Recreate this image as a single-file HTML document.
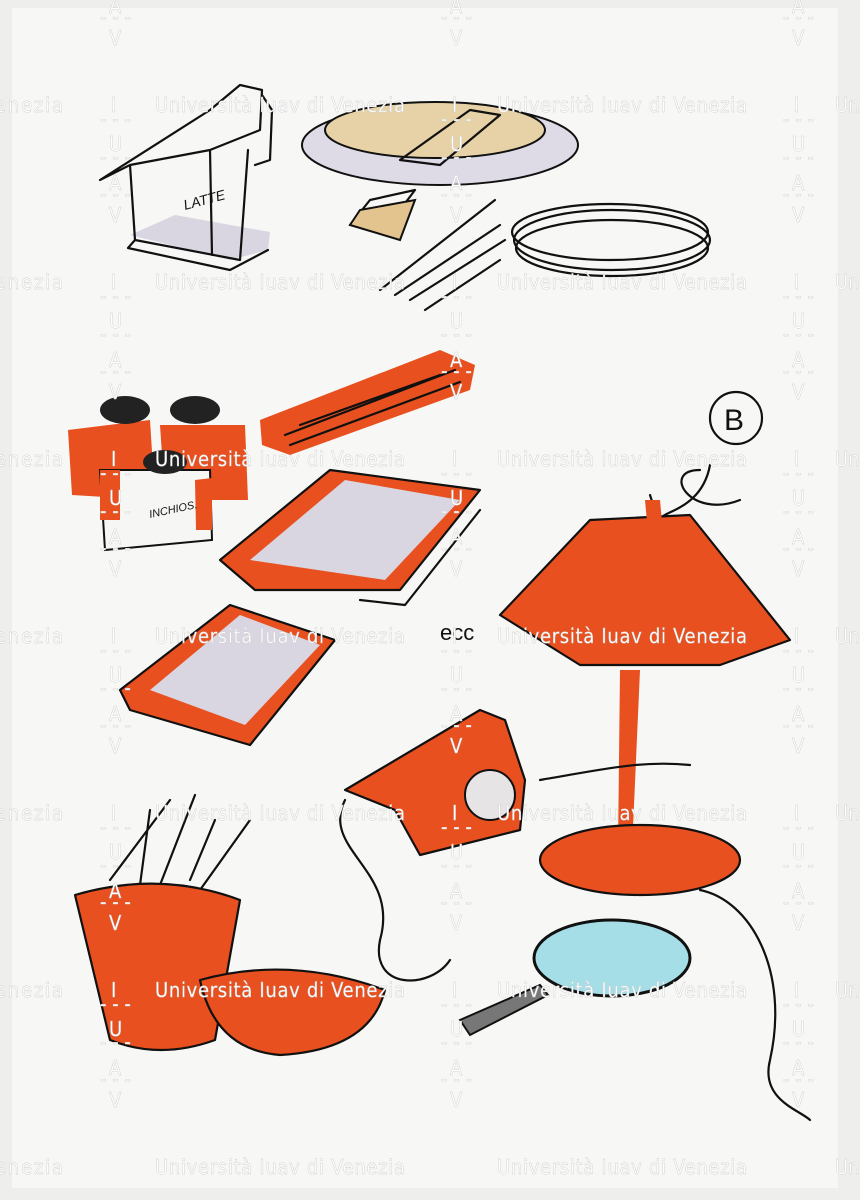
<!DOCTYPE html>
<html><head><meta charset="utf-8"><style>
html,body{margin:0;padding:0;background:#fff;overflow:hidden;width:860px;height:1200px}
svg{display:block}
.wm{font-family:"DejaVu Sans Condensed","Liberation Sans",sans-serif;font-size:20px;fill:#fff;stroke:#ccc;stroke-width:.4}
.k{fill:none;stroke:#111;stroke-width:2.2;stroke-linecap:round;stroke-linejoin:round}
.o{fill:#e8501f}
.g{fill:#d9d6e2}
</style></head><body>
<svg width="860" height="1200" viewBox="0 0 860 1200" xmlns="http://www.w3.org/2000/svg">
<rect width="860" height="1200" fill="#eeeeec"/>
<rect x="12" y="8" width="826" height="1180" fill="#f7f7f5"/>
<!-- milk jug -->
<path class="g" d="M130 235 L230 260 L268 250 L270 232 L175 215 Z"/>
<path class="k" d="M100 180 L210 110 L240 85 L262 90 L260 130 L210 150 L130 165 Z M130 165 L135 240 L240 260 L248 150 M210 150 L212 255 M262 95 L272 110 L270 160 L255 165 M135 240 L128 248 L230 270 L268 250"/>
<text x="185" y="210" font-family="Liberation Sans" font-size="14" font-style="italic" transform="rotate(-15 185 210)" fill="#111">LATTE</text>
<!-- plate with cake -->
<ellipse cx="440" cy="145" rx="138" ry="40" fill="#dedbe6" stroke="#111" stroke-width="2"/>
<ellipse cx="435" cy="130" rx="110" ry="28" fill="#e6d2a6" stroke="#111" stroke-width="2"/>
<path class="k" d="M400 160 L470 110 L500 115 L440 165 Z M350 225 L400 210 L415 190 L370 200 Z"/>
<path d="M350 225 L400 240 L415 200 L360 210 Z" fill="#e3c48e" stroke="#111" stroke-width="2"/>
<path class="k" d="M380 290 L495 200 M395 295 L500 225 M410 300 L505 240 M425 310 L500 260"/>
<ellipse cx="610" cy="232" rx="98" ry="28" class="k"/>
<ellipse cx="612" cy="240" rx="98" ry="30" class="k"/>
<ellipse cx="612" cy="248" rx="96" ry="28" class="k"/>
<!-- ink bottles -->
<path class="o" d="M68 430 L150 420 L155 500 L72 495 Z M160 425 L245 425 L248 500 L165 500 Z"/>
<path d="M100 470 L210 470 L212 540 L105 550 Z" fill="#f6f6f4" stroke="#111" stroke-width="2"/>
<path class="o" d="M100 470 L120 470 L120 520 L100 520 Z M195 480 L212 478 L212 530 L196 530 Z"/>
<ellipse cx="125" cy="410" rx="25" ry="14" fill="#222"/>
<ellipse cx="195" cy="410" rx="25" ry="14" fill="#222"/>
<ellipse cx="165" cy="462" rx="22" ry="12" fill="#222"/>
<text x="150" y="518" font-family="Liberation Sans" font-size="11" font-style="italic" transform="rotate(-12 150 518)" fill="#111">INCHIOS.</text>
<!-- stapler -->
<path class="o" d="M260 420 L440 350 L475 365 L470 390 L290 455 L262 445 Z"/>
<path class="k" d="M285 435 L455 370 M290 445 L460 382 M300 425 L440 375"/>
<!-- books -->
<path class="o" d="M220 560 L330 470 L480 490 L400 590 L255 590 Z"/>
<path class="g" d="M250 560 L345 480 L460 500 L385 580 Z"/>
<path class="k" d="M220 560 L330 470 L480 490 L400 590 L255 590 Z M360 600 L405 605 L480 510"/>
<path class="o" d="M120 690 L230 605 L335 640 L250 745 L130 710 Z"/>
<path class="g" d="M150 690 L240 615 L320 645 L245 725 Z"/>
<path class="k" d="M120 690 L230 605 L335 640 L250 745 L130 710 Z"/>
<text x="440" y="640" font-family="Liberation Sans" font-size="22" fill="#111">ecc</text>
<!-- B circle -->
<circle cx="736" cy="418" r="26" class="k"/>
<text x="724" y="430" font-family="Liberation Sans" font-size="30" fill="#111">B</text>
<path class="k" d="M700 470 C660 470 690 520 740 500 M710 465 C700 520 640 510 670 525"/>
<!-- lamp -->
<path class="o" d="M590 520 L690 515 L790 640 L720 665 L580 665 L500 615 Z"/>
<path class="k" d="M590 520 L690 515 L790 640 L720 665 L580 665 L500 615 Z M650 495 L658 520"/>
<path class="o" d="M645 500 L660 500 L662 522 L647 522 Z"/>
<path class="o" d="M620 670 L640 670 L632 850 L618 850 Z"/>
<ellipse cx="640" cy="860" rx="100" ry="35" class="o"/>
<ellipse cx="640" cy="860" rx="100" ry="35" class="k"/>
<!-- telephone -->
<path class="o" d="M345 790 L480 710 L505 720 L525 780 L520 830 L420 855 L395 810 Z"/>
<circle cx="490" cy="795" r="25" fill="#e7e4e6" stroke="#111" stroke-width="2"/>
<path class="k" d="M345 790 L480 710 L505 720 L525 780 L520 830 L420 855 L395 810 Z"/>
<path class="k" d="M345 800 C320 850 400 870 380 940 C370 990 430 990 450 960 M540 780 C600 770 640 760 690 765 M700 890 C750 900 790 970 770 1060 C760 1100 800 1110 810 1120"/>
<!-- magnifier -->
<ellipse cx="612" cy="958" rx="78" ry="38" fill="#a6dee8" stroke="#111" stroke-width="3"/>
<path d="M460 1020 L540 985 L548 995 L470 1035 Z" fill="#777" stroke="#111" stroke-width="2"/>
<!-- pencil pot -->
<path class="k" d="M110 880 L170 800 M140 885 L150 810 M160 885 L195 795 M190 880 L215 820 M200 890 L250 820"/>
<path d="M75 895 Q160 870 240 900 L215 1040 Q160 1060 110 1040 Z" class="o"/>
<path class="k" d="M75 895 Q160 870 240 900 L215 1040 Q160 1060 110 1040 Z"/>
<path d="M200 980 Q290 955 385 990 Q370 1050 280 1055 Q215 1050 200 980 Z" class="o"/>
<path class="k" d="M200 980 Q290 955 385 990 Q370 1050 280 1055 Q215 1050 200 980 Z"/>
<!-- watermark -->
<g class="wm">
<g id="row">
<text x="-5" y="112" textLength="68">enezia</text><text x="155" y="112" textLength="250">Università Iuav di Venezia</text><text x="497" y="112" textLength="250">Università Iuav di Venezia</text><text x="835" y="112">Un</text>
</g>
<use href="#row" y="177"/><use href="#row" y="354"/><use href="#row" y="531"/><use href="#row" y="708"/><use href="#row" y="885"/><use href="#row" y="1062"/>
<g id="col">
<text x="111" y="112">I</text><text x="100" y="126">- - -</text><text x="109" y="151">U</text><text x="100" y="164">- - -</text><text x="109" y="190">A</text><text x="100" y="201">- - -</text><text x="109" y="222">V</text>
<text x="452" y="112">I</text><text x="441" y="126">- - -</text><text x="450" y="151">U</text><text x="441" y="164">- - -</text><text x="450" y="190">A</text><text x="441" y="201">- - -</text><text x="450" y="222">V</text>
<text x="794" y="112">I</text><text x="783" y="126">- - -</text><text x="792" y="151">U</text><text x="783" y="164">- - -</text><text x="792" y="190">A</text><text x="783" y="201">- - -</text><text x="792" y="222">V</text>
</g>
<use href="#col" y="-177"/><use href="#col" y="177"/><use href="#col" y="354"/><use href="#col" y="531"/><use href="#col" y="708"/><use href="#col" y="885"/>
</g>
</svg>
</body></html>
